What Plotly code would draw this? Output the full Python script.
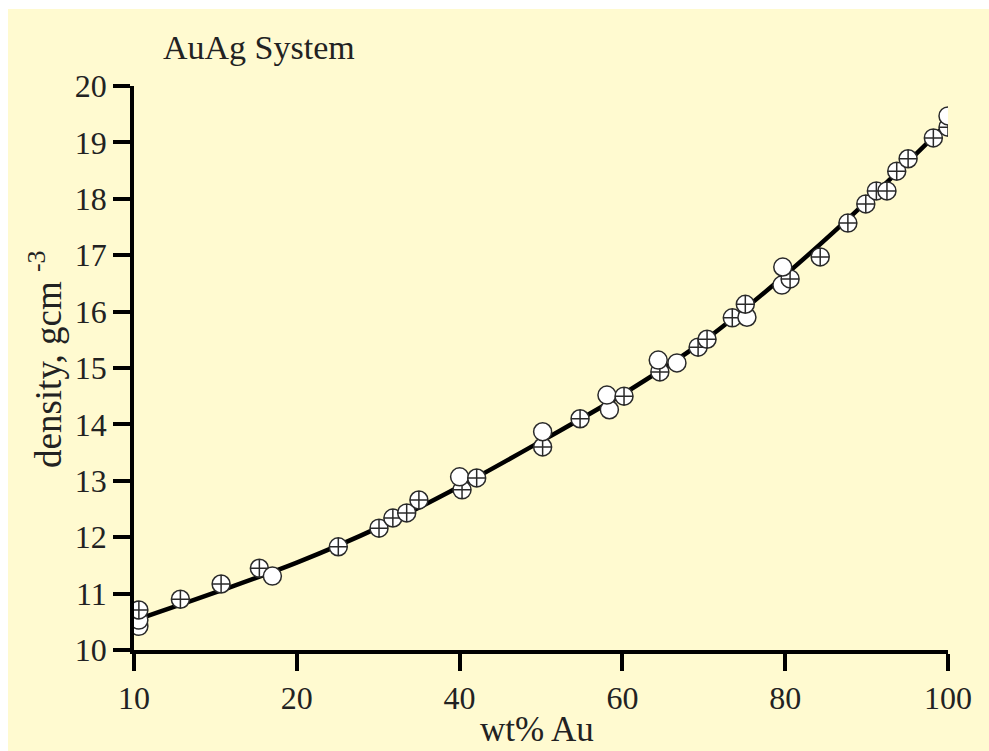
import plotly.graph_objects as go

# ---- data ----
wt_au = [0.6, 0.6, 0.6, 5.7, 10.7, 15.4, 17.0, 25.1, 30.1, 31.8, 33.5, 35.0,
         40.3, 40.0, 42.1, 50.2, 50.2, 54.8, 58.4, 58.1, 60.2, 64.6, 64.4, 66.7,
         69.3, 70.4, 73.5, 75.3, 75.1, 79.6, 80.6, 79.7, 84.3, 87.7, 89.9,
         91.2, 92.5, 93.7, 95.1, 98.2, 100.0, 100.0]
density = [10.42, 10.53, 10.71, 10.90, 11.17, 11.45, 11.31, 11.83, 12.16, 12.34, 12.43, 12.66,
           12.84, 13.07, 13.05, 13.60, 13.87, 14.10, 14.26, 14.52, 14.50, 14.93, 15.14, 15.09,
           15.37, 15.51, 15.89, 15.90, 16.13, 16.47, 16.58, 16.79, 16.97, 17.57, 17.91,
           18.14, 18.14, 18.49, 18.71, 19.08, 19.27, 19.47]
has_cross = [0, 0, 1, 1, 1, 1, 0, 1, 1, 1, 1, 1,
             1, 0, 1, 1, 0, 1, 0, 0, 1, 1, 0, 0,
             1, 1, 1, 0, 1, 0, 1, 0, 1, 1, 1,
             1, 1, 1, 1, 1, 1, 0]

curve_x = [1.6, 10, 20, 30, 40, 50, 60, 70, 80, 90, 100]
curve_y = [10.60, 11.02, 11.55, 12.17, 12.90, 13.70, 14.53, 15.48, 16.65, 17.95, 19.35]

x_tick_vals = [0, 20, 40, 60, 80, 100]
x_tick_text = ["10", "20", "40", "60", "80", "100"]
y_tick_vals = [10, 11, 12, 13, 14, 15, 16, 17, 18, 19, 20]

title_text = "AuAg System"
x_title = "wt% Au"
y_title = "density, gcm <sup>-3</sup>"

FONT = "Liberation Serif, Times New Roman, serif"
TXT = "#222222"
CREAM = "#FFFAD0"

symbols = ["circle-cross" if c else "circle" for c in has_cross]

fig = go.Figure()
fig.add_trace(go.Scatter(x=curve_x, y=curve_y, mode="lines",
                         line=dict(color="black", width=4.5, shape="spline", smoothing=1.0),
                         hoverinfo="skip", showlegend=False))
fig.add_trace(go.Scatter(x=wt_au, y=density, mode="markers",
                         marker=dict(symbol=symbols, size=18, color="white",
                                     line=dict(color="#2a2a2a", width=1.5)),
                         showlegend=False))

W, H = 989, 751
ml, mr, mt, mb = 134, 41, 86, 101
pw, ph = W - ml - mr, H - mt - mb

def px(xp):
    return (xp - ml) / pw

def py(yp):
    return (H - mb - yp) / ph

fig.add_shape(type="rect", xref="paper", yref="paper",
              x0=px(8), x1=px(W + 5), y0=py(H + 5), y1=py(9),
              fillcolor=CREAM, line=dict(width=0), layer="below")

fig.add_annotation(text=title_text, xref="paper", yref="paper",
                   x=px(161), y=py(47), xanchor="left", yanchor="middle",
                   showarrow=False, font=dict(family=FONT, size=34, color=TXT))
fig.add_annotation(text=x_title, xref="paper", yref="paper",
                   x=px(537), y=py(729), xanchor="center", yanchor="middle",
                   showarrow=False, font=dict(family=FONT, size=35, color=TXT))
fig.add_annotation(text=y_title, xref="paper", yref="paper",
                   x=px(45), y=py(359), xanchor="center", yanchor="middle",
                   textangle=-90, showarrow=False, font=dict(family=FONT, size=37, color=TXT))

axis_common = dict(showgrid=False, zeroline=False, showline=True, linecolor="black",
                   linewidth=3.5, ticks="outside", ticklen=17, tickwidth=3.5,
                   tickcolor="black", tickfont=dict(family=FONT, size=32, color=TXT),
                   fixedrange=True)

fig.update_layout(
    width=W, height=H,
    margin=dict(l=ml, r=mr, t=mt, b=mb, pad=0),
    paper_bgcolor="white", plot_bgcolor="rgba(0,0,0,0)",
    xaxis=dict(range=[0, 100], tickmode="array", tickvals=x_tick_vals,
               ticktext=x_tick_text, **axis_common),
    yaxis=dict(range=[10, 20], tickmode="array", tickvals=y_tick_vals, **axis_common),
    showlegend=False,
)

fig.write_html("out.html")
